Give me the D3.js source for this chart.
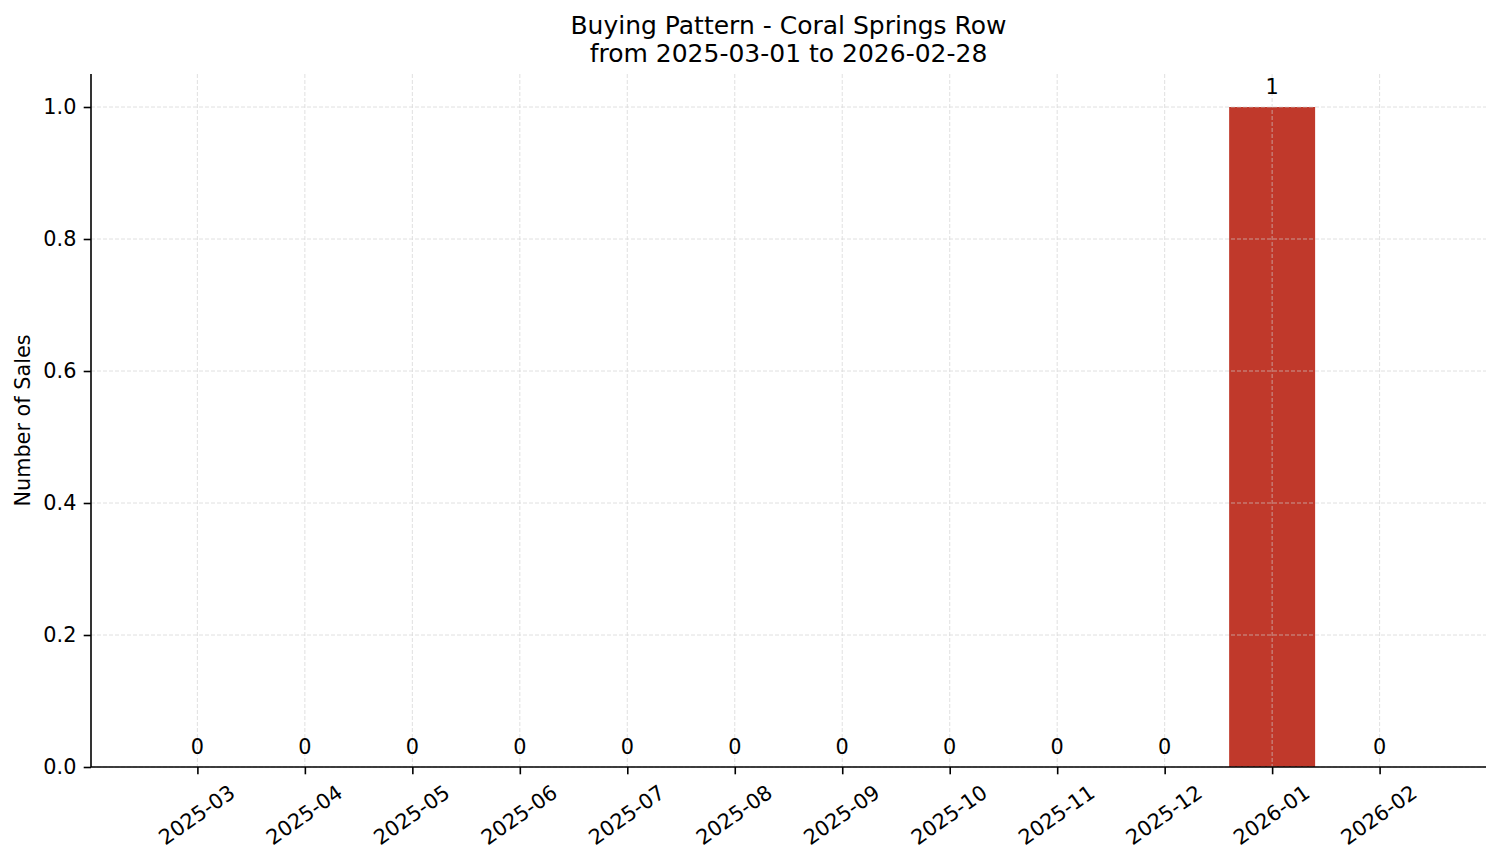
<!DOCTYPE html>
<html>
<head>
<meta charset="utf-8">
<script src="https://cdn.jsdelivr.net/npm/d3@7"></script>
<style>
  html, body { margin: 0; padding: 0; background: #fff; }
  text { font-family: "DejaVu Sans", sans-serif; fill: #000; }
</style>
</head>
<body>
<svg id="chart" width="1501" height="863"></svg>
<script>
const months = ["2025-03","2025-04","2025-05","2025-06","2025-07","2025-08","2025-09","2025-10","2025-11","2025-12","2026-01","2026-02"];
const sales = [0,0,0,0,0,0,0,0,0,0,1,0];
const yTicks = [0.0, 0.2, 0.4, 0.6, 0.8, 1.0];
const titleLines = ["Buying Pattern - Coral Springs Row", "from 2025-03-01 to 2026-02-28"];
const yLabel = "Number of Sales";

(function () {
const svg = d3.select("#chart");
const pLeft = 91, pRight = 1486, pTop = 74, pBottom = 767;

const x = d3.scaleLinear().domain([-0.99, months.length - 1 + 0.99]).range([pLeft, pRight]);
const y = d3.scaleLinear().domain([0, 1.05]).range([pBottom, pTop]);
const barW = (x(0.8) - x(0));

// bars
svg.append("g").selectAll("rect").data(sales).join("rect")
  .attr("x", (d, i) => x(i - 0.4))
  .attr("width", barW)
  .attr("y", d => y(d))
  .attr("height", d => y(0) - y(d))
  .attr("fill", "#c0392b");

// grid (drawn above bars like reference)
const grid = svg.append("g").attr("stroke", "#d0d0d0").attr("stroke-width", 0.8).attr("stroke-dasharray", "4,2").attr("opacity", 0.8);
yTicks.forEach(t => {
  grid.append("line").attr("x1", pLeft).attr("x2", pRight).attr("y1", y(t)).attr("y2", y(t));
});
months.forEach((m, i) => {
  grid.append("line").attr("x1", x(i)).attr("x2", x(i)).attr("y1", pTop).attr("y2", pBottom);
});

// value labels
svg.append("g").selectAll("text").data(sales).join("text")
  .attr("x", (d, i) => x(i))
  .attr("y", d => y(d) - 13.5)
  .attr("text-anchor", "middle")
  .attr("font-size", "20.8px")
  .text(d => d);

// y axis
const yAxis = d3.axisLeft(y).tickValues(yTicks).tickFormat(d3.format(".1f")).tickSize(7.3).tickPadding(7.3);
const gy = svg.append("g").attr("transform", `translate(${pLeft},0)`).call(yAxis);
gy.select(".domain").attr("stroke", "#000").attr("stroke-width", 1.6).attr("d", `M0,${pTop}V${pBottom}`);
gy.selectAll(".tick line").attr("stroke", "#000").attr("stroke-width", 1.6);
gy.selectAll(".tick text").attr("font-size", "20.8px").attr("font-family", "DejaVu Sans").attr("fill", "#000");

// x axis
const xAxis = d3.axisBottom(x).tickValues(months.map((m, i) => i)).tickFormat(i => months[i]).tickSize(7.3).tickPadding(7.3);
const gx = svg.append("g").attr("transform", `translate(0,${pBottom})`).call(xAxis);
gx.select(".domain").attr("stroke", "#000").attr("stroke-width", 1.6).attr("d", `M${pLeft},0H${pRight}`);
gx.selectAll(".tick line").attr("stroke", "#000").attr("stroke-width", 1.6);
gx.selectAll(".tick text")
  .attr("font-size", "20.8px").attr("font-family", "DejaVu Sans").attr("fill", "#000")
  .attr("text-anchor", "middle")
  .attr("dy", null)
  .attr("y", null)
  .attr("transform", "translate(-1,48) rotate(-35)")
  .attr("dominant-baseline", "central");

// y label
svg.append("text")
  .attr("transform", `translate(30,${(pTop + pBottom) / 2}) rotate(-90)`)
  .attr("text-anchor", "middle")
  .attr("font-size", "20.8px")
  .text(yLabel);

// title
svg.append("g").selectAll("text").data(titleLines).join("text")
  .attr("x", (pLeft + pRight) / 2)
  .attr("y", (d, i) => 34 + i * 27.5)
  .attr("text-anchor", "middle")
  .attr("font-size", "25px")
  .text(d => d);
})();
</script>
</body>
</html>
